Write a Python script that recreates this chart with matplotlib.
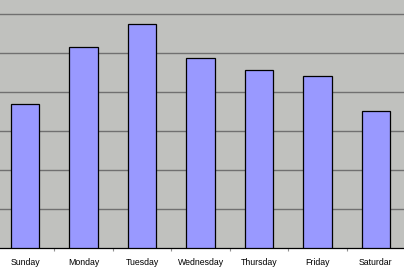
import matplotlib
matplotlib.use("Agg")
import matplotlib.pyplot as plt
from matplotlib.ticker import FixedLocator

days = ["Sunday", "Monday", "Tuesday", "Wednesday", "Thursday", "Friday", "Saturdar"]
values = [3.70, 5.16, 5.74, 4.88, 4.57, 4.41, 3.52]

fig = plt.figure(figsize=(4.04, 2.74), dpi=100)
fig.patch.set_facecolor("white")
ax = fig.add_axes([0, (274 - 248.3) / 274, 1, 248.3 / 274])
ax.set_facecolor("#C0C1BE")

x = list(range(len(days)))
ax.bar(x, values, width=0.49, color="#9999FF", edgecolor="black", linewidth=0.9, zorder=3)

ax.set_xlim(-0.43, 6.48)
ax.set_ylim(0, 248.3 / 39)
ax.set_yticks([1, 2, 3, 4, 5, 6])
ax.yaxis.grid(True, color="#707070", linewidth=1.0, zorder=1)
ax.tick_params(axis="y", left=False, labelleft=False)

ax.set_xticks(x)
ax.set_xticklabels(days, fontsize=6.3, family=["Liberation Sans", "DejaVu Sans"], color="black")
ax.tick_params(axis="x", which="major", length=0, pad=7)
ax.xaxis.set_minor_locator(FixedLocator([i + 0.5 for i in range(-1, 7)]))
ax.tick_params(axis="x", which="minor", length=2.5, color="#909090", width=0.8)

for s in ["top", "left", "right"]:
    ax.spines[s].set_visible(False)
ax.spines["bottom"].set_color("black")
ax.spines["bottom"].set_linewidth(0.9)

fig.savefig("out.png", dpi=100)
